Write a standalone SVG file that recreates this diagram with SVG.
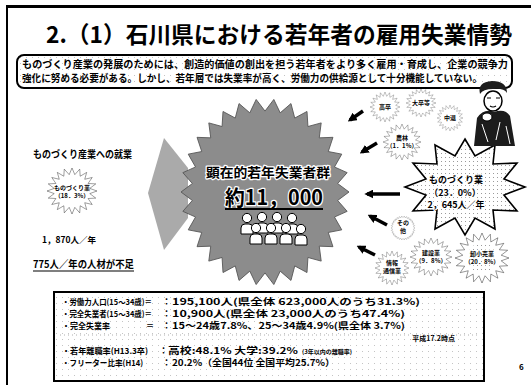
<svg xmlns="http://www.w3.org/2000/svg" width="531" height="385" viewBox="0 0 531 385">
<style>
text{font-family:"Noto Sans CJK JP","Noto Sans",sans-serif;font-weight:700;fill:#000}
.halo{stroke:#fff;stroke-width:2.5;paint-order:stroke;stroke-linejoin:round}
.sm{font-size:6px}
.burst{fill:#fff;stroke:#000;stroke-width:1.6;vector-effect:non-scaling-stroke}
.conn line{stroke:#000;stroke-width:3.5;marker-end:url(#ah)}
.row{font-size:9px}
.lbl{font-size:8px}
.mid{text-anchor:middle}
</style>
<defs>
  <marker id="ah" viewBox="0 0 10 10" refX="7" refY="5" markerWidth="9" markerHeight="9" markerUnits="userSpaceOnUse" orient="auto">
    <path d="M0,0 L10,5 L0,10 z" fill="#000"/>
  </marker>
  <pattern id="dots" width="4" height="4" patternUnits="userSpaceOnUse">
    <rect width="4" height="4" fill="#fff"/><rect x="1" y="1" width="1" height="1" fill="#9a9a9a"/>
  </pattern>
  <pattern id="faint" width="6" height="6" patternUnits="userSpaceOnUse">
    <rect width="6" height="6" fill="#fff"/><rect x="2" y="3" width="1" height="1" fill="#c4c4c4"/>
  </pattern>
  <!-- 30-point star, unit radius 100 -->
  <polygon id="star30" points="100,0 86.5,9.1 97.8,20.8 82.7,26.9 91.4,40.7 75.3,43.5 80.9,58.8 64.6,58.2 66.9,74.3 51.1,70.4 50,86.6 35.4,79.5 30.9,95.1 18.1,85.1 10.5,99.5 0,87 -10.5,99.5 -18.1,85.1 -30.9,95.1 -35.4,79.5 -50,86.6 -51.1,70.4 -66.9,74.3 -64.6,58.2 -80.9,58.8 -75.3,43.5 -91.4,40.7 -82.7,26.9 -97.8,20.8 -86.5,9.1 -100,0 -86.5,-9.1 -97.8,-20.8 -82.7,-26.9 -91.4,-40.7 -75.3,-43.5 -80.9,-58.8 -64.6,-58.2 -66.9,-74.3 -51.1,-70.4 -50,-86.6 -35.4,-79.5 -30.9,-95.1 -18.1,-85.1 -10.5,-99.5 0,-87 10.5,-99.5 18.1,-85.1 30.9,-95.1 35.4,-79.5 50,-86.6 51.1,-70.4 66.9,-74.3 64.6,-58.2 80.9,-58.8 75.3,-43.5 91.4,-40.7 82.7,-26.9 97.8,-20.8 86.5,-9.1"/>
  <!-- 20-point star with deeper spikes -->
  <polygon id="star20" points="100,0 71.1,11.3 95.1,30.9 64.2,32.7 80.9,58.8 50.9,50.9 58.8,80.9 32.7,64.2 30.9,95.1 11.3,71.1 0,100 -11.3,71.1 -30.9,95.1 -32.7,64.2 -58.8,80.9 -50.9,50.9 -80.9,58.8 -64.2,32.7 -95.1,30.9 -71.1,11.3 -100,0 -71.1,-11.3 -95.1,-30.9 -64.2,-32.7 -80.9,-58.8 -50.9,-50.9 -58.8,-80.9 -32.7,-64.2 -30.9,-95.1 -11.3,-71.1 0,-100 11.3,-71.1 30.9,-95.1 32.7,-64.2 58.8,-80.9 50.9,-50.9 80.9,-58.8 64.2,-32.7 95.1,-30.9 71.1,-11.3"/>
  <g id="person">
    <path d="M-6,16 L-6,10 Q-6,6 -2,6 L2,6 Q6,6 6,10 L6,16 Z" fill="#fff" stroke="#000" stroke-width="1"/>
    <circle cx="0" cy="0" r="4.6" fill="#fff" stroke="#000" stroke-width="1"/>
  </g>
</defs>

<rect width="531" height="385" fill="#fff"/>

<!-- slide frame -->
<g id="frame">
  <line x1="6" y1="6.5" x2="531" y2="6.5" stroke="#000" stroke-width="3"/>
  <line x1="7" y1="6" x2="7" y2="385" stroke="#000" stroke-width="2"/>
</g>

<g id="title">
  <text x="46" y="43" font-size="23" textLength="466" lengthAdjust="spacingAndGlyphs">2.（1）石川県における若年者の雇用失業情勢</text>
</g>

<g id="summary">
  <rect x="17" y="55" width="495" height="33" rx="7" fill="url(#faint)" stroke="#000" stroke-width="2"/>
  <text x="22" y="68" font-size="10" textLength="486" lengthAdjust="spacingAndGlyphs">ものづくり産業の発展のためには、創造的価値の創出を担う若年者をより多く雇用・育成し、企業の競争力</text>
  <text x="22" y="82" font-size="10" textLength="460" lengthAdjust="spacingAndGlyphs">強化に努める必要がある。しかし、若年層では失業率が高く、労働力の供給源として十分機能していない。</text>
</g>

<!-- left: employment into manufacturing -->
<g id="left-panel">
  <text x="33" y="158" font-size="10" textLength="99" lengthAdjust="spacingAndGlyphs">ものづくり産業への就業</text>
  <g id="left-burst">
    <use href="#star20" class="burst" transform="translate(72,191) scale(0.25,0.23)"/>
    <text x="72" y="190" class="sm mid">ものづくり業</text>
    <text x="72" y="198" class="sm mid">（18．3%）</text>
  </g>
  <text x="69" y="243" font-size="8.5" class="mid">1，870人／年</text>
  <text x="33" y="268" font-size="10.5" textLength="101" lengthAdjust="spacingAndGlyphs">775人／年の人材が不足</text>
  <line x1="33" y1="271" x2="134" y2="271" stroke="#000" stroke-width="1.2"/>
</g>

<g id="flow-arrow">
  <polygon points="148,193 164,138 188,168 188,218 164,250" fill="#aaaaaa"/>
</g>

<!-- central group of unemployed youth -->
<g id="core">
  <use href="#star30" transform="translate(265,192) scale(0.84,0.93)" fill="#8c8c8c" stroke="#555" stroke-width="1" vector-effect="non-scaling-stroke"/>
  <text x="268" y="177" font-size="13" class="mid halo" textLength="124" lengthAdjust="spacingAndGlyphs">顕在的若年失業者群</text>
  <text x="274" y="205" font-size="21" class="mid halo" textLength="98" lengthAdjust="spacingAndGlyphs">約11，000</text>
  <line x1="225" y1="209" x2="323" y2="209" stroke="#000" stroke-width="2"/>
  <g id="people">
    <use href="#person" x="247" y="218"/>
    <use href="#person" x="262" y="217"/>
    <use href="#person" x="277" y="217"/>
    <use href="#person" x="292" y="218"/>
    <use href="#person" x="256" y="228"/>
    <use href="#person" x="271" y="228"/>
    <use href="#person" x="286" y="228"/>
    <use href="#person" x="301" y="229"/>
  </g>
</g>

<!-- sources -->
<g id="src-highschool">
  <use href="#star20" class="burst" transform="translate(385,107) scale(0.15)"/>
  <text x="385" y="109" class="sm mid">高卒</text>
</g>
<g id="src-university">
  <use href="#star20" class="burst" transform="translate(421,103) scale(0.15,0.14)"/>
  <text x="421" y="105" class="sm mid">大卒等</text>
</g>
<g id="src-dropout">
  <use href="#star20" class="burst" transform="translate(450,118) scale(0.13)"/>
  <text x="450" y="120" class="sm mid">中退</text>
</g>
<g id="src-agri">
  <use href="#star20" class="burst" transform="translate(402,142) scale(0.19,0.18)"/>
  <text x="402" y="140" class="sm mid">農林</text>
  <text x="402" y="148" class="sm mid">（1．1%）</text>
</g>
<g id="src-manufacturing">
  <polygon points="465,139 475,156 495,145 493,164 517,163 504,179 525,187 504,195 517,211 493,210 495,229 475,218 465,235 455,218 435,229 437,210 413,211 426,195 405,187 426,179 413,163 437,164 435,145 455,156" fill="url(#dots)" stroke="#000" stroke-width="1.6" stroke-linejoin="miter"/>
  <text x="456" y="183" font-size="9" class="mid halo">ものづくり業</text>
  <text x="455" y="196" font-size="9" class="mid halo">（23．0%）</text>
  <text x="456" y="208" font-size="9" class="mid halo">2，645人／年</text>
</g>
<g id="src-other">
  <use href="#star30" class="burst" transform="translate(403,228) scale(0.12)"/>
  <text x="403" y="225" class="sm mid">その</text>
  <text x="403" y="233" class="sm mid">他</text>
</g>
<g id="src-construction">
  <use href="#star20" class="burst" transform="translate(431,257) scale(0.21,0.19)"/>
  <text x="431" y="255" class="sm mid">建設業</text>
  <text x="431" y="263" class="sm mid">（9．8%）</text>
</g>
<g id="src-retail">
  <use href="#star20" class="burst" transform="translate(482,258) scale(0.27,0.25)"/>
  <circle cx="482" cy="258" r="15" fill="url(#dots)"/>
  <text x="482" y="256" class="sm mid halo">卸小売業</text>
  <text x="482" y="264" class="sm mid halo">（20．8%）</text>
</g>
<g id="src-it">
  <use href="#star20" class="burst" transform="translate(392,268) scale(0.17)"/>
  <text x="392" y="265" class="sm mid">情報</text>
  <text x="392" y="273" class="sm mid">通信業</text>
</g>

<!-- figure at top right -->
<g id="figure">
  <path d="M474,146 L477,118 Q484,108 494,112 Q505,108 510,116 L515,146 Z" fill="#1c1c1c"/>
  <path d="M482,124 L488,142 M500,122 L496,140 M506,126 L510,144" stroke="#fff" stroke-width="1"/>
  <ellipse cx="493" cy="101" rx="9" ry="10" fill="#fff" stroke="#000" stroke-width="1.5"/>
  <path d="M480,94 Q477,82 492,81 Q507,81 507,93 Q504,88 493,89 Q483,89 480,94 Z" fill="#1c1c1c"/>
  <path d="M487,98 h4 M496,98 h4 M490,106 q3,2 6,0" stroke="#000" stroke-width="1.2" fill="none"/>
  <ellipse cx="487" cy="117" rx="5" ry="4" fill="#fff" stroke="#000" stroke-width="1"/>
</g>

<!-- inflow arrows -->
<g class="conn" id="connectors">
  <line x1="363" y1="111" x2="350" y2="120"/>
  <line x1="377" y1="143" x2="362" y2="152"/>
  <line x1="400" y1="194" x2="367" y2="194"/>
  <line x1="387" y1="225" x2="370" y2="216"/>
  <line x1="375" y1="255" x2="359" y2="247"/>
</g>

<!-- statistics table -->
<g id="stats">
  <rect x="54" y="292" width="430" height="89" fill="url(#faint)" stroke="#000" stroke-width="2"/>
  <g class="row">
    <text x="62" y="305" class="lbl" textLength="90" lengthAdjust="spacingAndGlyphs">・労働力人口(15～34歳)＝</text>
    <text x="162" y="305">：</text>
    <text x="172" y="305" textLength="248" lengthAdjust="spacingAndGlyphs">195,100人(県全体 623,000人のうち31.3%)</text>
    <text x="62" y="317" class="lbl" textLength="90" lengthAdjust="spacingAndGlyphs">・完全失業者(15～34歳)＝</text>
    <text x="162" y="317">：</text>
    <text x="172" y="317" textLength="233" lengthAdjust="spacingAndGlyphs">10,900人(県全体 23,000人のうち47.4%)</text>
    <text x="62" y="329" class="lbl" textLength="48" lengthAdjust="spacingAndGlyphs">・完全失業率</text>
    <text x="146" y="329" class="lbl">＝</text>
    <text x="162" y="329">：</text>
    <text x="172" y="329" textLength="233" lengthAdjust="spacingAndGlyphs">15～24歳7.8%、25～34歳4.9%(県全体 3.7%)</text>
    <text x="455" y="341" font-size="7" text-anchor="end">平成17.2時点</text>
    <text x="62" y="354" class="lbl" textLength="86" lengthAdjust="spacingAndGlyphs">・若年離職率(H13.3卒)</text>
    <text x="159" y="354">：</text>
    <text x="168" y="354" textLength="130" lengthAdjust="spacingAndGlyphs">高校:48.1% 大学:39.2%</text>
    <text x="302" y="354" font-size="6">(3年以内の離職率)</text>
    <text x="62" y="366" class="lbl" textLength="81" lengthAdjust="spacingAndGlyphs">・フリーター比率(H14)</text>
    <text x="162" y="366">：</text>
    <text x="172" y="366" textLength="163" lengthAdjust="spacingAndGlyphs">20.2%（全国44位 全国平均25.7%）</text>
  </g>
  <line x1="60" y1="335" x2="478" y2="335" stroke="#999" stroke-width="0.8" stroke-dasharray="1 3"/>
</g>

<text x="519" y="370" font-size="8">6</text>
</svg>
